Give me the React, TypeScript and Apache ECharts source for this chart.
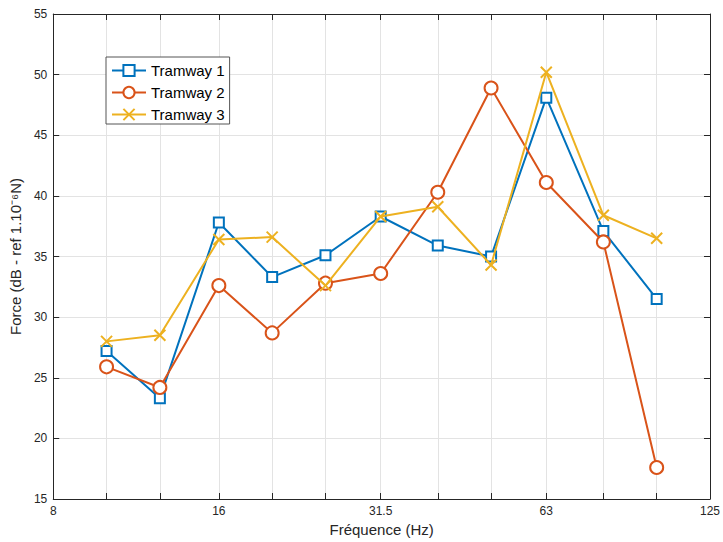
import React, { useEffect, useRef } from "react";
import * as echarts from "echarts";

const frequencies = [10, 12.5, 16, 20, 25, 31.5, 40, 50, 63, 80, 100];
const tramway1 = [27.2, 23.3, 37.8, 33.3, 35.1, 38.3, 35.9, 35.0, 48.1, 37.1, 31.5];
const tramway2 = [25.9, 24.2, 32.6, 28.7, 32.8, 33.6, 40.3, 48.9, 41.1, 36.2, 17.6];
const tramway3 = [28.0, 28.5, 36.4, 36.6, 32.6, 38.3, 39.1, 34.3, 50.2, 38.4, 36.5];
const seriesNames = ["Tramway 1", "Tramway 2", "Tramway 3"];
const xTickLabels = ["8", "16", "31.5", "63", "125"];
const xLabelValues = [8, 16, 31.5, 63, 125];
const xTickValues = [10, 12.5, 16, 20, 25, 31.5, 40, 50, 63, 80, 100];
const yMin = 15;
const yMax = 55;
const yStep = 5;

const COLORS = ["#0072BD", "#D95319", "#EDB120"];
const AXIS = "#262626";
const FONT = "'Liberation Sans', Arial, Helvetica, sans-serif";

export default function App() {
  const ref = useRef<HTMLDivElement>(null);
  useEffect(() => {
    if (!ref.current) return;
    const chart = echarts.init(ref.current, null, { renderer: "svg" });
    const lx = (f: number) => Math.log2(f);
    const labelLogs = xLabelValues.map(lx);
    const labelFor = (v: number) => {
      let best = 0;
      let d = Infinity;
      labelLogs.forEach((l, i) => {
        const dd = Math.abs(l - v);
        if (dd < d) {
          d = dd;
          best = i;
        }
      });
      return xTickLabels[best];
    };
    const mk = (vals: number[]) => frequencies.map((f, i) => [lx(f), vals[i]]);
    const seriesData = [tramway1, tramway2, tramway3];
    const symbols = ["emptyRect", "emptyCircle", "path://M0,0L10,10M10,0L0,10"];
    const sizes = [10, 13, 11];

    const xBase = {
      type: "value" as const,
      min: lx(8),
      max: lx(125),
    };

    chart.setOption({
      animation: false,
      backgroundColor: "#ffffff",
      textStyle: { fontFamily: FONT },
      grid: { left: 46, right: 8, top: 14, bottom: 42, containLabel: false },
      legend: {
        orient: "vertical",
        left: 106,
        top: 57,
        data: seriesNames,
        itemWidth: 34,
        itemHeight: 14,
        itemGap: 7,
        padding: [6, 5, 2, 5],
        backgroundColor: "#ffffff",
        borderColor: "#555555",
        borderWidth: 1,
        borderRadius: 0,
        textStyle: { fontFamily: FONT, fontSize: 15, color: "#000000" },
      },
      xAxis: [
        {
          ...xBase,
          position: "bottom",
          name: "Fréquence (Hz)",
          nameLocation: "middle",
          nameGap: 23,
          nameTextStyle: { fontFamily: FONT, fontSize: 15, color: AXIS },
          axisLine: { show: true, lineStyle: { color: AXIS, width: 1 } },
          axisTick: {
            show: true,
            inside: true,
            length: 6,
            customValues: xTickValues.map(lx),
            lineStyle: { color: AXIS },
          },
          axisLabel: {
            show: true,
            customValues: labelLogs,
            formatter: (v: number) => labelFor(v),
            fontFamily: FONT,
            fontSize: 12,
            color: AXIS,
            margin: 6,
            showMinLabel: true,
            showMaxLabel: true,
          },
          splitLine: { show: true, lineStyle: { color: "#e3e3e3", width: 1 } },
        },
        {
          ...xBase,
          position: "top",
          axisLine: { show: true, lineStyle: { color: AXIS, width: 1 } },
          axisTick: {
            show: true,
            inside: true,
            length: 6,
            customValues: xTickValues.map(lx),
            lineStyle: { color: AXIS },
          },
          axisLabel: { show: false },
          splitLine: { show: false },
        },
      ],
      yAxis: [
        {
          type: "value",
          min: yMin,
          max: yMax,
          interval: yStep,
          position: "left",
          name: "Force (dB - ref 1.10⁻⁶N)",
          nameLocation: "middle",
          nameRotate: 90,
          nameGap: 21,
          nameTextStyle: { fontFamily: FONT, fontSize: 15, color: AXIS },
          axisLine: { show: true, lineStyle: { color: AXIS, width: 1 } },
          axisTick: { show: true, inside: true, length: 6, lineStyle: { color: AXIS } },
          axisLabel: { fontFamily: FONT, fontSize: 12, color: AXIS, margin: 6 },
          splitLine: { show: true, lineStyle: { color: "#e3e3e3", width: 1 } },
        },
        {
          type: "value",
          min: yMin,
          max: yMax,
          interval: yStep,
          position: "right",
          axisLine: { show: true, lineStyle: { color: AXIS, width: 1 } },
          axisTick: { show: true, inside: true, length: 6, lineStyle: { color: AXIS } },
          axisLabel: { show: false },
          splitLine: { show: false },
        },
      ],
      series: seriesNames.map((name, i) => ({
        name,
        type: "line",
        xAxisIndex: 0,
        yAxisIndex: 0,
        data: mk(seriesData[i]),
        symbol: symbols[i],
        symbolSize: sizes[i],
        showAllSymbol: true,
        lineStyle: { color: COLORS[i], width: 2 },
        itemStyle: {
          color: COLORS[i],
          borderColor: COLORS[i],
          borderWidth: 2,
        },
        emphasis: { disabled: true },
        z: 2 + i,
      })),
    });
    return () => chart.dispose();
  }, []);
  return <div ref={ref} style={{ width: 723, height: 542, position: "fixed", left: 0, top: 0 }} />;
}
